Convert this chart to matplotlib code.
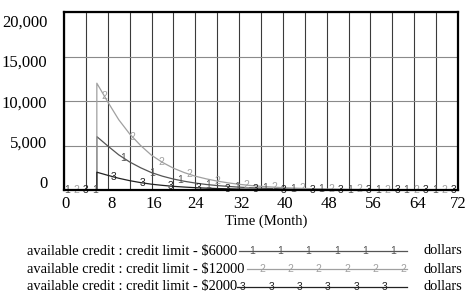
import matplotlib
matplotlib.use('Agg')
import matplotlib.pyplot as plt
import matplotlib.transforms as mtrans
from matplotlib.lines import Line2D
import numpy as np

# ---------------- data ----------------
months = [0, 6, 6, 8, 10, 12, 14, 16, 18, 20, 22, 24, 26, 28, 30, 32, 34, 36,
          40, 44, 48, 52, 56, 60, 64, 68, 72]
credit_6000 = [0, 0, 6000, 4950, 3950, 3150, 2500, 1950, 1550, 1230, 980, 780, 620,
               500, 400, 320, 255, 205, 130, 85, 55, 35, 22, 15, 10, 6, 4]
credit_12000 = [0, 0, 12000, 9900, 7900, 6300, 5000, 3900, 3100, 2450, 1950, 1550,
                1250, 1000, 800, 640, 510, 410, 260, 170, 110, 70, 45, 30, 20, 12, 8]
credit_2000 = [0, 0, 2000, 1650, 1320, 1050, 830, 650, 520, 410, 330, 260, 210,
               165, 135, 105, 85, 68, 43, 28, 18, 12, 7, 5, 3, 2, 1]

series_labels = ["available credit : credit limit - $6000",
                 "available credit : credit limit - $12000",
                 "available credit : credit limit - $2000"]
unit_label = "dollars"
x_label = "Time (Month)"
y_ticks = [0, 5000, 10000, 15000, 20000]
y_tick_labels = ["0", "5,000", "10,000", "15,000", "20,000"]
x_ticks = [0, 8, 16, 24, 32, 40, 48, 56, 64, 72]

# ---------------- style ----------------
W, H = 466, 296
colors = ['#555555', '#a0a0a0', '#222222']
serif = ['Liberation Serif', 'DejaVu Serif']
sans = ['Liberation Sans', 'DejaVu Sans']

fig = plt.figure(figsize=(W / 100, H / 100), dpi=100)
ax = fig.add_axes([64 / W, 106 / H, 394 / W, 178 / H])
ax.set_xlim(0, 72)
ax.set_ylim(0, 20000)

series = [credit_6000, credit_12000, credit_2000]
for s, c in zip(series, colors):
    ax.plot(months, s, color=c, lw=0.9, zorder=3)

# grid
ax.set_xticks(x_ticks)
ax.set_xticks(np.arange(4, 72, 8), minor=True)
ax.set_yticks(y_ticks)
ax.grid(True, axis='x', which='both', color='#3a3a3a', lw=0.8, zorder=1)
ax.grid(True, axis='y', which='major', color='#8a8a8a', lw=0.8, zorder=1)
ax.tick_params(which='both', length=0)
ax.set_xticklabels([str(v) for v in x_ticks], fontsize=12, family=serif)
ax.set_yticklabels(y_tick_labels, fontsize=12, family=serif)
ax.tick_params(axis='x', pad=4.5)
ax.tick_params(axis='y', pad=12)

# Vensim-style label offsets
x_offsets_px = [1, 4, 2.5, 0, 2.5, 2, 2.5, 2.5, 3, 0]
for lab, dx in zip(ax.get_xticklabels(), x_offsets_px):
    lab.set_transform(lab.get_transform() + mtrans.ScaledTranslation(dx / 100, 0, fig.dpi_scale_trans))
y_offsets_px = [8.5, 4, -1, -4.5, -8.5]
for lab, dy in zip(ax.get_yticklabels(), y_offsets_px):
    lab.set_transform(lab.get_transform() + mtrans.ScaledTranslation(0, dy / 100, fig.dpi_scale_trans))

for sp in ax.spines.values():
    sp.set_linewidth(1.6)
    sp.set_color('black')
    sp.set_zorder(5)

# numbered markers along the lines
marker_months = 0.5 + 1.725 * np.arange(42)
for k, m in enumerate(marker_months):
    i = k % 3
    v = np.interp(m, months, series[i])
    ax.text(m, v, str(i + 1), fontsize=7.5, color=colors[i], ha='center', va='center',
            family=sans, clip_on=False, zorder=4)

# x label
fig.text(266 / W, 1 - 221 / H, x_label, fontsize=10.5, family=serif, ha='center', va='center')

# legend
rows_y = [251, 269.3, 286.7]
line_start = [239, 247, 237]
marker_start = [252, 262, 243]
for i in range(3):
    yy = 1 - rows_y[i] / H
    fig.text(27 / W, yy, series_labels[i], fontsize=10.4, family=serif, ha='left', va='center')
    fig.add_artist(Line2D([line_start[i] / W, 407 / W], [yy, yy], transform=fig.transFigure,
                          color=colors[i], lw=0.9))
    for j in range(6):
        fig.text((marker_start[i] + 28.3 * j) / W, yy, str(i + 1), fontsize=7.5, family=sans,
                 color=colors[i], ha='center', va='center')
    fig.text(423 / W, yy, unit_label, fontsize=10.4, family=serif, ha='left', va='center')

fig.savefig('out.png', dpi=100)
